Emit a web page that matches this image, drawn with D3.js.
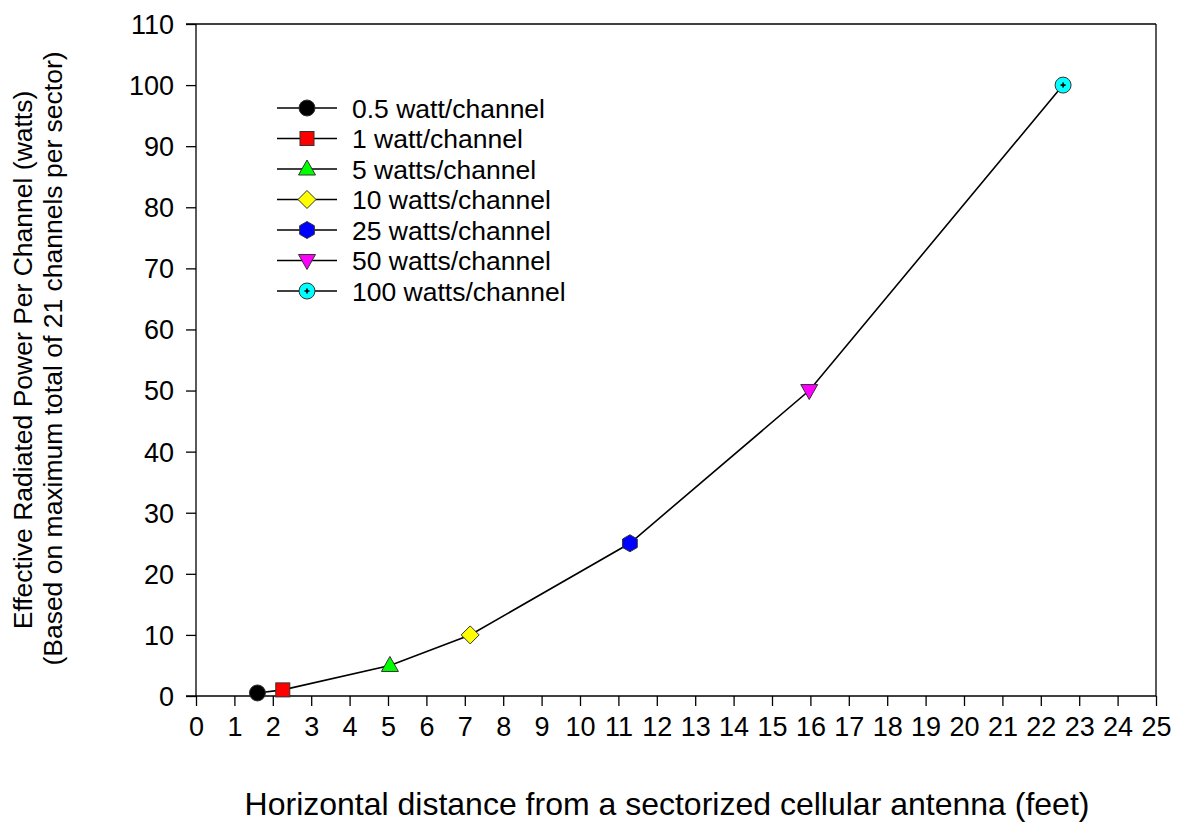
<!DOCTYPE html>
<html><head><meta charset="utf-8">
<script src="https://cdn.jsdelivr.net/npm/d3@7"></script>
<style>body{margin:0;background:#fff;} text{font-family:"Liberation Sans",Arial,sans-serif;fill:#000;}</style>
</head><body>
<svg id="c" width="1182" height="823"></svg>
<script>
const labels = ["0.5 watt/channel","1 watt/channel","5 watts/channel","10 watts/channel","25 watts/channel","50 watts/channel","100 watts/channel"];
const distance = [1.6, 2.26, 5.05, 7.14, 11.3, 15.97, 22.58];
const power = [0.5, 1, 5, 10, 25, 50, 100];
const colors = ["#000000","#ff0000","#00ff00","#ffff00","#0000ff","#ff00ff","#00ffff"];
const shapes = ["circle","square","triangle","diamond","hexagon","triangleDown","circlePlus"];
const xTicks = d3.range(0, 26, 1);
const yTicks = d3.range(0, 111, 10);

const svg = d3.select("#c");
const L = 196, R = 1156, T = 24, B = 696;
const x = d3.scaleLinear().domain([0,25]).range([L,R]);
const y = d3.scaleLinear().domain([0,110]).range([B,T]);

svg.append("line").attr("x1",L-10).attr("x2",R).attr("y1",T).attr("y2",T).attr("stroke","#000").attr("stroke-width",1.3);
svg.append("line").attr("x1",R).attr("x2",R).attr("y1",T).attr("y2",B).attr("stroke","#000").attr("stroke-width",1.3);

const xa = svg.append("g").attr("transform",`translate(0,${B})`)
  .call(d3.axisBottom(x).tickValues(xTicks).tickSize(10).tickPadding(8).tickSizeOuter(0));
const ya = svg.append("g").attr("transform",`translate(${L},0)`)
  .call(d3.axisLeft(y).tickValues(yTicks).tickSize(10).tickPadding(8).tickSizeOuter(0));
[xa,ya].forEach(a=>{
  a.selectAll("text").style("font-size","27px").style("font-family","Liberation Sans, Arial, sans-serif").attr("fill","#000");
  a.selectAll("line,path").attr("stroke","#000").attr("stroke-width",1.3);
});
ya.selectAll("text").attr("x", -22).attr("dy","0.35em");
xa.selectAll("text").attr("y", 40).attr("dy", 0);
xa.select(".domain").attr("d",`M${L-10},0H${R}`);
ya.select(".domain").attr("d",`M0,${T}V${B}`);

function marker(g, shape, color, cx, cy){
  const sw = 1, st = "#333";
  if(shape==="circle") g.append("circle").attr("cx",cx).attr("cy",cy).attr("r",8).attr("fill",color).attr("stroke",st).attr("stroke-width",sw);
  else if(shape==="square") g.append("rect").attr("x",cx-7).attr("y",cy-7).attr("width",14).attr("height",14).attr("fill",color).attr("stroke",st).attr("stroke-width",sw);
  else if(shape==="triangle") g.append("path").attr("d",`M${cx},${cy-9}L${cx+8.5},${cy+6}L${cx-8.5},${cy+6}Z`).attr("fill",color).attr("stroke",st).attr("stroke-width",sw);
  else if(shape==="triangleDown") g.append("path").attr("d",`M${cx},${cy+9}L${cx+8.5},${cy-6}L${cx-8.5},${cy-6}Z`).attr("fill",color).attr("stroke",st).attr("stroke-width",sw);
  else if(shape==="diamond") g.append("path").attr("d",`M${cx},${cy-9}L${cx+9},${cy}L${cx},${cy+9}L${cx-9},${cy}Z`).attr("fill",color).attr("stroke",st).attr("stroke-width",sw);
  else if(shape==="hexagon"){
    const pts = d3.range(6).map(i=>{const a=Math.PI/3*i+Math.PI/6; return [cx+8.5*Math.cos(a), cy+8.5*Math.sin(a)];});
    g.append("path").attr("d","M"+pts.map(p=>p.join(",")).join("L")+"Z").attr("fill",color).attr("stroke",st).attr("stroke-width",sw);
  } else if(shape==="circlePlus"){
    g.append("circle").attr("cx",cx).attr("cy",cy).attr("r",8).attr("fill",color).attr("stroke",st).attr("stroke-width",sw);
    g.append("path").attr("d",`M${cx-2.5},${cy}H${cx+2.5}M${cx},${cy-2.5}V${cy+2.5}`).attr("stroke","#000").attr("stroke-width",1.6);
  }
}

const pts = distance.map((d,i)=>[d,power[i]]);
svg.append("path").datum(pts).attr("fill","none").attr("stroke","#000").attr("stroke-width",1.6)
  .attr("d", d3.line().x(d=>x(d[0])).y(d=>y(d[1])));
const mg = svg.append("g");
pts.forEach((p,i)=>marker(mg, shapes[i], colors[i], x(p[0]), y(p[1])));

const lg = svg.append("g");
labels.forEach((lab,i)=>{
  const ly = 108 + i*30.5;
  lg.append("line").attr("x1",277).attr("x2",337).attr("y1",ly).attr("y2",ly).attr("stroke","#000").attr("stroke-width",1.6);
  marker(lg, shapes[i], colors[i], 307, ly);
  lg.append("text").attr("x",352).attr("y",ly+9.5).style("font-size","26.5px").text(lab);
});

svg.append("text").attr("x",667).attr("y",815).attr("text-anchor","middle").style("font-size","32px")
  .text("Horizontal distance from a sectorized cellular antenna (feet)");
svg.append("text").attr("transform","translate(32,360) rotate(-90)").attr("text-anchor","middle").style("font-size","26.5px")
  .text("Effective Radiated Power Per Channel (watts)");
svg.append("text").attr("transform","translate(62,358.5) rotate(-90)").attr("text-anchor","middle").style("font-size","26.5px")
  .text("(Based on maximum total of 21 channels per sector)");
</script>
</body></html>
